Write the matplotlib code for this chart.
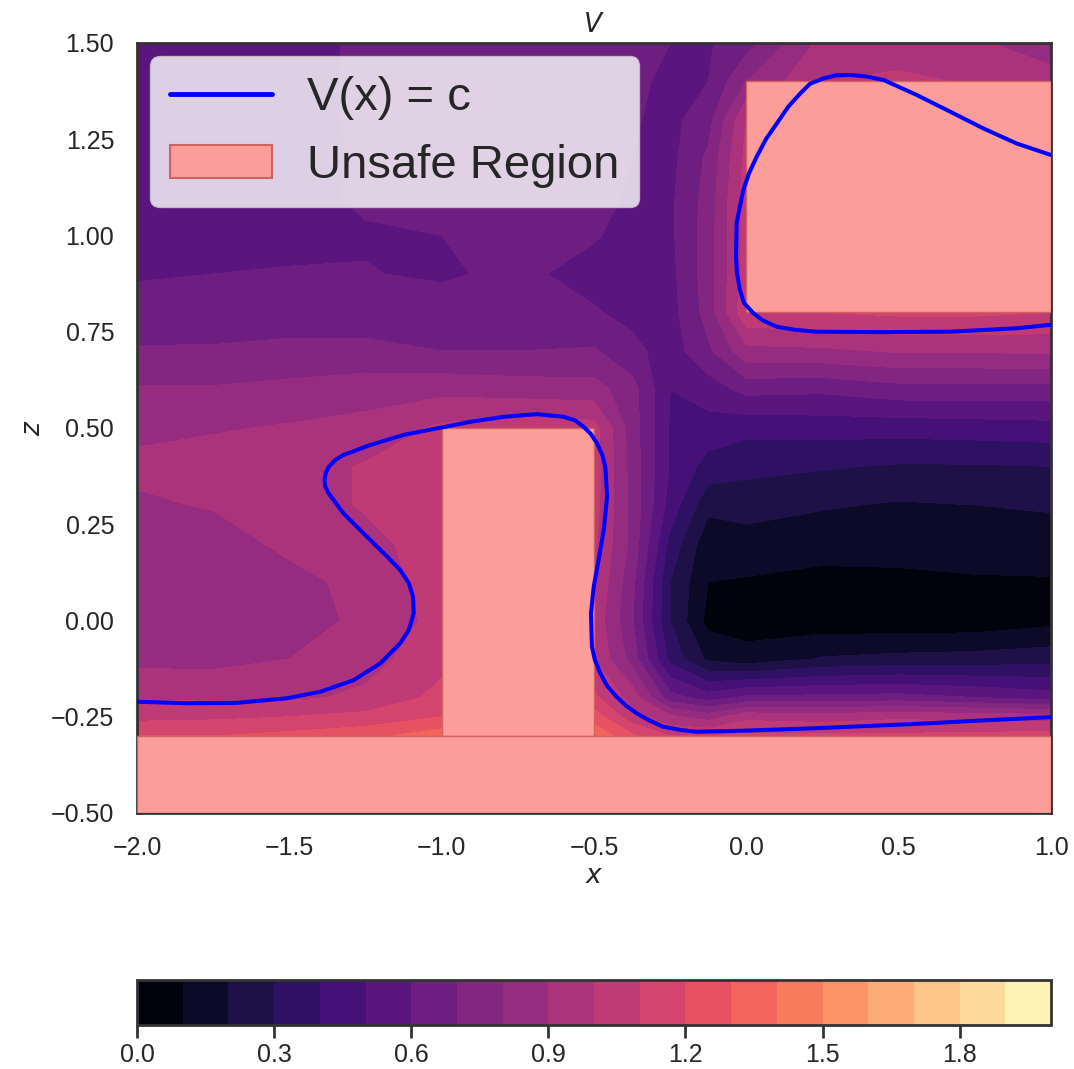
import numpy as np
import matplotlib
matplotlib.use("Agg")
import matplotlib.pyplot as plt
import seaborn as sns
from matplotlib.patches import Rectangle, Patch
from matplotlib.lines import Line2D

sns.set_style("white")
plt.rcParams['font.family'] = ['Liberation Sans', 'DejaVu Sans']

x_grid = [-2.0, -1.75, -1.5, -1.25, -1.0, -0.75, -0.5, -0.375, -0.25, -0.125, 0.0, 0.25, 0.5, 0.75, 1.0]
z_grid = [-0.5, -0.3, -0.25, -0.2, -0.1, 0.0, 0.1, 0.2, 0.3, 0.4, 0.5,
          0.6, 0.7, 0.8, 0.9, 1.0, 1.1, 1.2, 1.3, 1.4, 1.5]

# one row per z value (bottom to top), one column per x value
v_values = [
    [1.30, 1.30, 1.33, 1.37, 1.46, 1.50, 1.48, 1.32, 1.20, 1.20, 1.22, 1.22, 1.22, 1.23, 1.25],   # z=-0.5
    [1.20, 1.20, 1.23, 1.27, 1.36, 1.40, 1.38, 1.22, 1.10, 1.10, 1.12, 1.12, 1.12, 1.13, 1.15],   # z=-0.3
    [1.07, 1.08, 1.10, 1.13, 1.20, 1.30, 1.25, 1.04, 0.92, 0.85, 0.97, 0.95, 0.98, 0.96, 0.95],   # z=-0.25
    [0.99, 0.98, 0.98, 1.02, 1.13, 1.20, 1.12, 0.96, 0.64, 0.55, 0.62, 0.63, 0.64, 0.60, 0.55],   # z=-0.2
    [0.87, 0.87, 0.90, 0.96, 1.07, 1.12, 1.00, 0.76, 0.37, 0.18, 0.14, 0.21, 0.23, 0.24, 0.26],   # z=-0.1
    [0.84, 0.82, 0.84, 0.93, 1.03, 1.10, 0.97, 0.71, 0.30, 0.07, 0.05, 0.04, 0.03, 0.035, 0.07],  # z=0.0
    [0.83, 0.82, 0.86, 0.94, 1.05, 1.10, 1.00, 0.73, 0.30, 0.10, 0.09, 0.07, 0.085, 0.09, 0.09],  # z=0.1
    [0.84, 0.84, 0.93, 0.97, 1.05, 1.10, 1.02, 0.77, 0.37, 0.13, 0.16, 0.14, 0.125, 0.14, 0.16],  # z=0.2
    [0.88, 0.91, 0.95, 1.01, 1.05, 1.10, 1.04, 0.77, 0.46, 0.23, 0.24, 0.21, 0.19, 0.20, 0.21],   # z=0.3
    [0.93, 0.95, 0.95, 1.01, 1.05, 1.10, 1.05, 0.76, 0.49, 0.36, 0.33, 0.31, 0.29, 0.29, 0.30],   # z=0.4
    [0.87, 0.89, 0.91, 0.93, 1.02, 1.06, 1.04, 0.75, 0.49, 0.46, 0.43, 0.44, 0.44, 0.45, 0.46],   # z=0.5
    [0.81, 0.81, 0.83, 0.86, 0.87, 0.85, 0.84, 0.74, 0.50, 0.55, 0.63, 0.62, 0.66, 0.66, 0.66],   # z=0.6
    [0.71, 0.71, 0.72, 0.72, 0.70, 0.70, 0.71, 0.63, 0.55, 0.68, 0.87, 0.88, 0.91, 0.91, 0.92],   # z=0.7
    [0.64, 0.65, 0.66, 0.66, 0.65, 0.66, 0.61, 0.57, 0.56, 0.74, 1.08, 1.10, 1.12, 1.12, 1.10],   # z=0.8
    [0.59, 0.60, 0.605, 0.605, 0.585, 0.625, 0.56, 0.55, 0.57, 0.75, 1.05, 1.10, 1.15, 1.15, 1.15],  # z=0.9
    [0.55, 0.56, 0.58, 0.59, 0.60, 0.63, 0.61, 0.56, 0.58, 0.75, 1.05, 1.10, 1.15, 1.15, 1.15],   # z=1.0
    [0.54, 0.55, 0.57, 0.615, 0.64, 0.65, 0.65, 0.58, 0.58, 0.74, 1.05, 1.10, 1.15, 1.15, 1.15],  # z=1.1
    [0.54, 0.55, 0.57, 0.61, 0.65, 0.66, 0.65, 0.60, 0.57, 0.72, 1.03, 1.10, 1.15, 1.15, 1.15],   # z=1.2
    [0.55, 0.56, 0.58, 0.61, 0.65, 0.66, 0.64, 0.61, 0.57, 0.66, 1.00, 1.10, 1.15, 1.15, 1.10],   # z=1.3
    [0.55, 0.56, 0.58, 0.61, 0.64, 0.65, 0.63, 0.62, 0.58, 0.60, 0.80, 1.00, 1.02, 0.99, 0.93],   # z=1.4
    [0.56, 0.57, 0.58, 0.61, 0.63, 0.64, 0.62, 0.62, 0.60, 0.59, 0.66, 0.93, 0.95, 0.91, 0.86],   # z=1.5
]

levels = np.arange(0.0, 2.01, 0.1)
cbar_ticks = [0.0, 0.3, 0.6, 0.9, 1.2, 1.5, 1.8]

# unsafe regions: (x0, z0, width, height)
unsafe_regions = [
    (-1.0, -0.3, 0.5, 0.8),
    (0.0, 0.8, 1.0, 0.6),
    (-2.0, -0.5, 3.0, 0.2),
]

# level set V(x) = c, two pieces
level_x1 = [-2.000, -1.836, -1.672, -1.508, -1.398, -1.289, -1.201, -1.136, -1.108, -1.092,
            -1.094, -1.108, -1.136, -1.179, -1.256, -1.322, -1.371, -1.382, -1.385, -1.381,
            -1.371, -1.349, -1.322, -1.234, -1.125, -1.015, -0.906, -0.796, -0.687, -0.599,
            -0.561, -0.534, -0.510, -0.490, -0.474, -0.463, -0.457, -0.468, -0.485, -0.501,
            -0.510, -0.507, -0.497, -0.480, -0.457, -0.426, -0.395, -0.360, -0.320, -0.273,
            -0.218, -0.163, 0.001, 0.220, 0.548, 0.767, 1.000]
level_z1 = [-0.211, -0.215, -0.214, -0.202, -0.185, -0.155, -0.111, -0.059, -0.025, 0.019,
            0.062, 0.097, 0.131, 0.166, 0.226, 0.278, 0.330, 0.348, 0.365, 0.382,
            0.399, 0.417, 0.430, 0.456, 0.482, 0.499, 0.516, 0.529, 0.536, 0.529,
            0.519, 0.503, 0.484, 0.460, 0.432, 0.400, 0.322, 0.235, 0.157, 0.088,
            0.019, -0.068, -0.103, -0.136, -0.170, -0.198, -0.221, -0.241, -0.259, -0.276,
            -0.284, -0.289, -0.286, -0.280, -0.269, -0.260, -0.251]

level_x2 = [1.000, 0.887, 0.778, 0.668, 0.559, 0.450, 0.393, 0.340, 0.294, 0.253, 0.209,
            0.177, 0.137, 0.100, 0.065, 0.034, 0.009, -0.010, -0.032, -0.034, -0.031,
            -0.021, -0.008, 0.023, 0.055, 0.100, 0.160, 0.231, 0.450, 0.668, 0.887, 1.000]
level_z2 = [1.209, 1.239, 1.278, 1.322, 1.365, 1.404, 1.413, 1.417, 1.416, 1.408, 1.394,
            1.369, 1.334, 1.291, 1.251, 1.205, 1.162, 1.118, 1.032, 0.945, 0.903,
            0.858, 0.825, 0.798, 0.779, 0.763, 0.755, 0.750, 0.749, 0.750, 0.759, 0.768]

unsafe_face = '#fc9d9a'
unsafe_edge = '#d0625f'

fig = plt.figure(figsize=(10.74, 10.69), dpi=100)
ax = fig.add_axes([0.1276, 0.2395, 0.8510, 0.7203])
cax = fig.add_axes([0.1276, 0.0412, 0.8510, 0.0421])

cf = ax.contourf(x_grid, z_grid, np.array(v_values), levels=levels, cmap='magma')

for (x0, z0, w, h) in unsafe_regions:
    ax.add_patch(Rectangle((x0, z0), w, h, facecolor=unsafe_face,
                           edgecolor=unsafe_edge, linewidth=1.0, zorder=3))

ax.plot(level_x1, level_z1, color='blue', linewidth=2.9, zorder=4, solid_joinstyle='round')
ax.plot(level_x2, level_z2, color='blue', linewidth=2.9, zorder=4, solid_joinstyle='round')

ax.set_xlim(-2, 1)
ax.set_ylim(-0.5, 1.5)
ax.set_xticks([-2.0, -1.5, -1.0, -0.5, 0.0, 0.5, 1.0])
ax.set_yticks([-0.5, -0.25, 0.0, 0.25, 0.5, 0.75, 1.0, 1.25, 1.5])
ax.set_yticklabels(['−0.50', '−0.25', '0.00', '0.25', '0.50', '0.75', '1.00', '1.25', '1.50'])
ax.tick_params(labelsize=18, pad=13)
ax.set_title('$V$', fontsize=19, pad=8)
ax.set_xlabel('$x$', fontsize=19, labelpad=3)
ax.set_ylabel('$z$', fontsize=19, labelpad=4)
for sp in ax.spines.values():
    sp.set_linewidth(2.0)
    sp.set_edgecolor('#333333')

handles = [Line2D([0], [0], color='blue', linewidth=3.5),
           Patch(facecolor=unsafe_face, edgecolor=unsafe_edge, linewidth=1.5)]
leg = ax.legend(handles, ['V(x) = c', 'Unsafe Region'], loc='upper left',
                fontsize=34, borderaxespad=0.28, framealpha=0.8,
                handlelength=2.15, handletextpad=0.75, borderpad=0.42,
                labelspacing=0.5)
leg.set_zorder(10)

cbar = fig.colorbar(cf, cax=cax, orientation='horizontal', ticks=cbar_ticks)
cbar.ax.set_xticklabels(['0.0', '0.3', '0.6', '0.9', '1.2', '1.5', '1.8'])
cbar.ax.tick_params(labelsize=18, length=9, width=2, color='#333333', pad=4)
cbar.outline.set_linewidth(2.0)
cbar.outline.set_edgecolor('#333333')

fig.savefig('out.png', dpi=100)
